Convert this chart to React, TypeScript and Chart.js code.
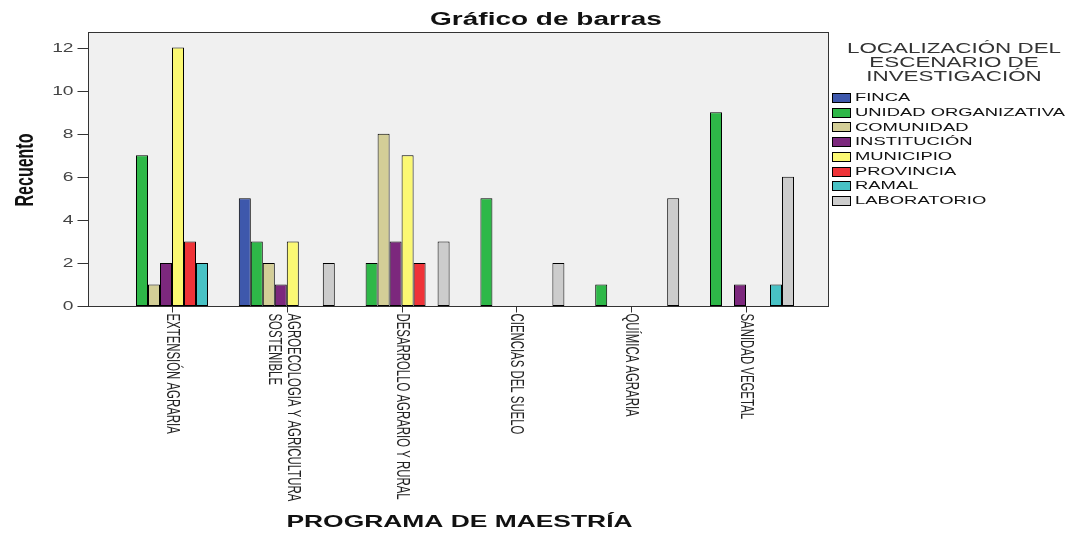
import React, { useEffect, useRef } from "react";
import { Chart, registerables } from "chart.js";

Chart.register(...registerables);

// ---- data ----
const PROGRAMS: (string | string[])[] = [
  "EXTENSIÓN AGRARIA",
  ["AGROECOLOGIA Y AGRICULTURA", "SOSTENIBLE"],
  "DESARROLLO AGRARIO Y RURAL",
  "CIENCIAS DEL SUELO",
  "QUÍMICA AGRARIA",
  "SANIDAD VEGETAL",
];

const SERIES_NAMES = [
  "FINCA",
  "UNIDAD ORGANIZATIVA",
  "COMUNIDAD",
  "INSTITUCIÓN",
  "MUNICIPIO",
  "PROVINCIA",
  "RAMAL",
  "LABORATORIO",
];

const FINCA = [0, 5, 0, 0, 0, 0];
const UNIDAD_ORGANIZATIVA = [7, 3, 2, 5, 1, 9];
const COMUNIDAD = [1, 2, 8, 0, 0, 0];
const INSTITUCION = [2, 1, 3, 0, 0, 1];
const MUNICIPIO = [12, 3, 7, 0, 0, 0];
const PROVINCIA = [3, 0, 2, 0, 0, 0];
const RAMAL = [2, 0, 0, 0, 0, 1];
const LABORATORIO = [0, 2, 3, 2, 5, 6];

const SERIES_VALUES = [
  FINCA,
  UNIDAD_ORGANIZATIVA,
  COMUNIDAD,
  INSTITUCION,
  MUNICIPIO,
  PROVINCIA,
  RAMAL,
  LABORATORIO,
];

const SERIES_COLORS = [
  "#3E58AC",
  "#2EB848",
  "#D3CE97",
  "#7C287D",
  "#FBF873",
  "#EF3338",
  "#48C2C5",
  "#CCCCCC",
];

const Y_TICKS = [0, 2, 4, 6, 8, 10, 12];

const TITLE = "Gráfico de barras";
const X_TITLE = "PROGRAMA DE MAESTRÍA";
const Y_TITLE = "Recuento";
const LEGEND_TITLE = ["LOCALIZACIÓN DEL", "ESCENARIO DE", "INVESTIGACIÓN"];

// ---- drawing helpers ----
const FF = "'Liberation Sans', Arial, Helvetica, sans-serif";
const SX = 1.6; // horizontal stretch of the reference picture

function sText(
  ctx: CanvasRenderingContext2D,
  text: string,
  x: number,
  y: number,
  font: string,
  align: CanvasTextAlign,
  baseline: CanvasTextBaseline,
  color: string,
  rot = 0
) {
  ctx.save();
  ctx.translate(x, y);
  ctx.scale(SX, 1);
  if (rot) ctx.rotate(rot);
  ctx.font = font;
  ctx.textAlign = align;
  ctx.textBaseline = baseline;
  ctx.fillStyle = color;
  ctx.fillText(text, 0, 0);
  ctx.restore();
}

const decorPlugin = {
  id: "spssDecor",
  beforeDraw(chart: any) {
    const { ctx, chartArea: ca } = chart;
    ctx.save();
    ctx.fillStyle = "#ffffff";
    ctx.fillRect(0, 0, chart.width, chart.height);
    const fl = ca.left - 26.6;
    const fr = ca.right + 24.6;
    ctx.fillStyle = "#f0f0f0";
    ctx.fillRect(fl, ca.top, fr - fl, ca.bottom - ca.top);
    ctx.restore();
  },
  afterDatasetsDraw(chart: any) {
    const { ctx, chartArea: ca, scales } = chart;
    const xs = scales.x;
    const ys = scales.y;
    const fl = Math.round(ca.left - 26.6) + 0.5;
    const fr = Math.round(ca.right + 24.6) + 0.5;
    const ft = Math.round(ca.top) + 0.5;
    const fb = Math.round(ca.bottom) + 0.5;

    ctx.save();
    // frame
    ctx.strokeStyle = "#333333";
    ctx.lineWidth = 1;
    ctx.strokeRect(fl, ft, fr - fl, fb - ft);

    // y ticks and labels
    Y_TICKS.forEach((v) => {
      const py = Math.round(ys.getPixelForValue(v)) + 0.5;
      ctx.beginPath();
      ctx.moveTo(fl - 11, py);
      ctx.lineTo(fl, py);
      ctx.stroke();
      sText(ctx, String(v), fl - 15, py, `12px ${FF}`, "right", "middle", "#444444");
    });

    // x ticks and rotated labels
    const labels = chart.data.labels as (string | string[])[];
    labels.forEach((lab, i) => {
      const px = Math.round(xs.getPixelForValue(i)) + 0.5;
      ctx.beginPath();
      ctx.moveTo(px, fb);
      ctx.lineTo(px, fb + 6);
      ctx.stroke();
      const lines = Array.isArray(lab) ? lab : [lab];
      const n = lines.length;
      const step = 19;
      lines.forEach((ln, j) => {
        const off = ((n - 1) / 2 - j) * step - (n > 1 ? 4 : 0);
        sText(ctx, ln, px + off, fb + 7, `11.4px ${FF}`, "left", "middle", "#222222", Math.PI / 2);
      });
    });

    // titles
    sText(ctx, TITLE, 546, 25, `bold 17.5px ${FF}`, "center", "alphabetic", "#111111");
    sText(ctx, X_TITLE, 459.5, 527, `bold 16.5px ${FF}`, "center", "alphabetic", "#111111");
    sText(ctx, Y_TITLE, 33, 170, `bold 16px ${FF}`, "center", "alphabetic", "#111111", -Math.PI / 2);

    // legend
    LEGEND_TITLE.forEach((t, k) => {
      sText(ctx, t, 954, 53 + k * 14, `14px ${FF}`, "center", "alphabetic", "#333333");
    });
    chart.data.datasets.forEach((ds: any, i: number) => {
      const yc = 98 + i * 14.7;
      ctx.fillStyle = ds.backgroundColor;
      ctx.fillRect(832, Math.round(yc - 5), 19, 10);
      ctx.strokeStyle = "#000000";
      ctx.strokeRect(832.5, Math.round(yc - 5) + 0.5, 18, 9);
      sText(ctx, ds.label, 855, yc, `11.5px ${FF}`, "left", "middle", "#111111");
    });
    ctx.restore();
  },
};

export default function App() {
  const ref = useRef<HTMLCanvasElement | null>(null);

  useEffect(() => {
    if (!ref.current) return;
    const chart = new Chart(ref.current, {
      type: "bar",
      data: {
        labels: PROGRAMS as any,
        datasets: SERIES_NAMES.map((name, i) => ({
          label: name,
          data: SERIES_VALUES[i].map((v) => (v === 0 ? null : v)),
          backgroundColor: SERIES_COLORS[i],
          borderColor: "#000000",
          borderWidth: 1,
          borderSkipped: false,
          barPercentage: 1,
          categoryPercentage: 0.836,
        })),
      },
      options: {
        responsive: false,
        animation: false,
        devicePixelRatio: 1,
        layout: {
          padding: { left: 114.6, right: 269.6, top: 32, bottom: 227 },
        },
        scales: {
          x: { type: "category", display: false, offset: true },
          y: { display: false, min: 0, max: 12.72 },
        },
        plugins: {
          legend: { display: false },
          title: { display: false },
          tooltip: { enabled: false },
        },
      },
      plugins: [decorPlugin],
    });
    return () => chart.destroy();
  }, []);

  return (
    <div style={{ position: "fixed", left: 0, top: 0, width: 1073, height: 533, background: "#fff" }}>
      <canvas ref={ref} width={1073} height={533} style={{ display: "block" }} />
    </div>
  );
}
